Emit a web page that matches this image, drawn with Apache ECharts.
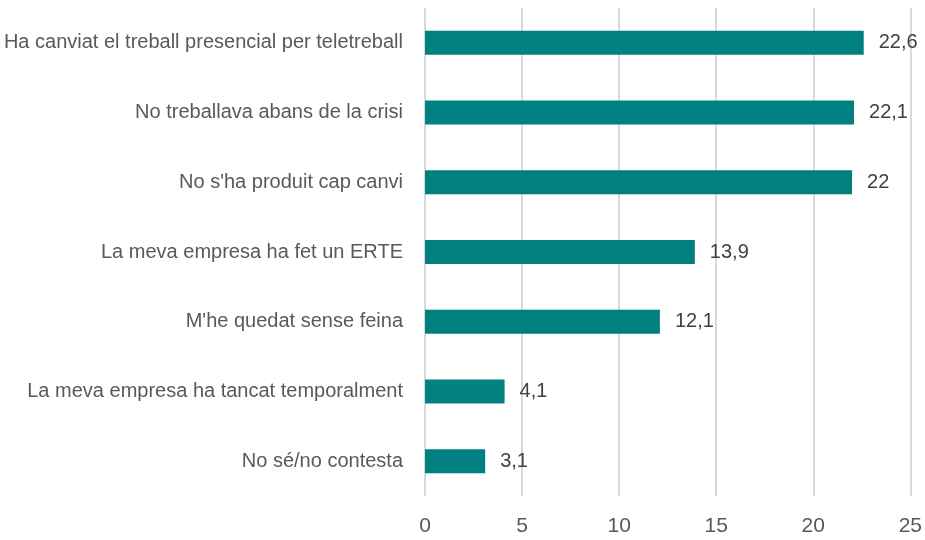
<!DOCTYPE html>
<html>
<head>
<meta charset="utf-8">
<script src="https://cdn.jsdelivr.net/npm/echarts@6/dist/echarts.min.js"></script>
<style>
  html, body { margin: 0; padding: 0; background: #fff; }
  #chart { width: 925px; height: 540px; }
</style>
</head>
<body>
<div id="chart"></div>
<script>
// categories top to bottom
const categories = [
  'Ha canviat el treball presencial per teletreball',
  'No treballava abans de la crisi',
  "No s'ha produit cap canvi",
  'La meva empresa ha fet un ERTE',
  "M'he quedat sense feina",
  'La meva empresa ha tancat temporalment',
  'No sé/no contesta'
];
const values = [22.6, 22.1, 22, 13.9, 12.1, 4.1, 3.1];
const xTicks = [0, 5, 10, 15, 20, 25];

const font = "'Liberation Sans Narrow', 'Arial Narrow', 'Liberation Sans', sans-serif";

const chart = echarts.init(document.getElementById('chart'));
chart.setOption({
  animation: false,
  grid: { left: 425, right: 13, top: 8, bottom: 44 },
  xAxis: {
    type: 'value',
    min: xTicks[0],
    max: xTicks[xTicks.length - 1],
    interval: 5,
    axisLine: { show: false },
    axisTick: { show: false },
    splitLine: { lineStyle: { color: '#d9d9d9', width: 2 } },
    axisLabel: { color: '#595959', fontSize: 21, fontFamily: font, margin: 20 }
  },
  yAxis: {
    type: 'category',
    inverse: true,
    data: categories,
    axisLine: { show: false },
    axisTick: { show: false },
    axisLabel: { color: '#595959', fontSize: 20, fontFamily: font, margin: 22 }
  },
  series: [{
    type: 'bar',
    data: values,
    barWidth: 24,
    itemStyle: { color: '#008080' },
    label: {
      show: true,
      position: 'right',
      distance: 15,
      color: '#404040',
      fontSize: 20,
      fontFamily: font,
      formatter: p => String(p.value).replace('.', ',')
    }
  }]
});
</script>
</body>
</html>
